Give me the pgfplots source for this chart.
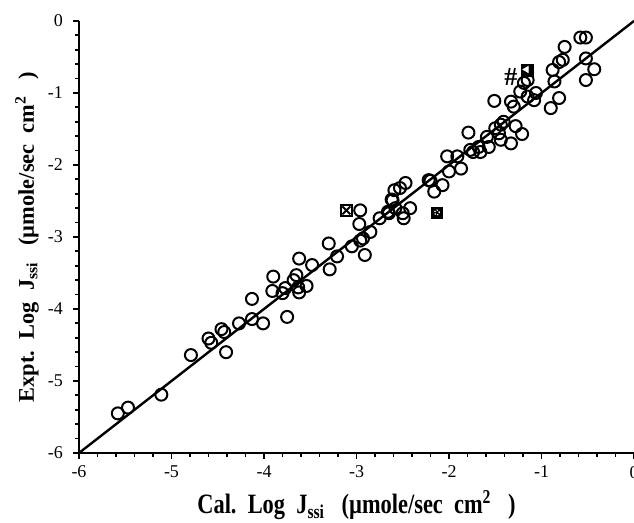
\documentclass[border=0pt]{standalone}
\usepackage{pgfplots}
\pgfplotsset{compat=1.18}
\usepackage{fontspec}
\setmainfont{Liberation Serif}

\pgfplotstableread{
x y
-5.58 -5.45
-5.47 -5.37
-5.11 -5.19
-4.79 -4.64
-4.60 -4.41
-4.57 -4.47
-4.41 -4.60
-4.46 -4.28
-4.43 -4.32
-4.27 -4.20
-4.13 -4.14
-4.13 -3.86
-4.01 -4.20
-3.90 -3.55
-3.91 -3.75
-3.80 -3.78
-3.75 -4.11
-3.77 -3.71
-3.68 -3.60
-3.65 -3.53
-3.62 -3.77
-3.63 -3.70
-3.54 -3.68
-3.62 -3.30
-3.48 -3.39
-3.29 -3.45
-3.21 -3.27
-3.30 -3.09
-3.05 -3.13
-2.96 -2.63
-2.97 -2.82
-2.85 -2.93
-2.93 -3.02
-2.91 -3.25
-2.96 -3.05
-2.75 -2.74
-2.66 -2.65
-2.62 -2.48
-2.59 -2.35
-2.53 -2.32
-2.47 -2.25
-2.61 -2.49
-2.58 -2.60
-2.42 -2.60
-2.50 -2.67
-2.49 -2.74
-2.65 -2.67
-2.22 -2.21
-2.20 -2.22
-2.07 -2.28
-2.16 -2.37
-2.00 -2.09
-2.02 -1.88
-1.87 -2.05
-1.91 -1.88
-1.79 -1.55
-1.77 -1.79
-1.74 -1.82
-1.68 -1.75
-1.66 -1.82
-1.59 -1.61
-1.57 -1.75
-1.46 -1.56
-1.44 -1.44
-1.44 -1.65
-1.50 -1.49
-1.41 -1.40
-1.33 -1.70
-1.28 -1.46
-1.21 -1.57
-1.51 -1.11
-1.33 -1.12
-1.30 -1.19
-1.23 -0.98
-1.15 -1.05
-1.19 -0.86
-1.15 -0.82
-1.06 -1.00
-1.08 -1.10
-0.88 -0.68
-0.86 -0.84
-0.81 -0.57
-0.77 -0.54
-0.75 -0.36
-0.81 -1.07
-0.90 -1.21
-0.58 -0.23
-0.52 -0.23
-0.52 -0.52
-0.43 -0.67
-0.52 -0.82
}\circles

\begin{document}
\begin{tikzpicture}
\begin{axis}[
  name=ax,
  scale only axis,
  width=277.5pt, height=216pt,
  xmin=-6, xmax=0, ymin=-6, ymax=0,
  axis lines=left,
  axis line style={-, line width=1pt},
  xtick={-6,-5,-4,-3,-2,-1,0},
  ytick={-6,-5,-4,-3,-2,-1,0},
  xticklabels={-6,-5,-4,-3,-2,-1,0},
  yticklabels={-6,-5,-4,-3,-2,-1,0},
  minor tick num=4,
  tick align=outside,
  major tick length=3pt,
  minor tick length=2pt,
  tick style={line width=0.9pt, black},
  ticklabel style={font=\fontsize{9}{10}\selectfont},
  yticklabel style={xshift=-1.5pt},
  clip=false,
  every axis x label/.style={at={(axis description cs:0.5,0)}, yshift=-30.5pt,
    anchor=base, font=\fontsize{14}{16}\selectfont\bfseries, xscale=0.8},
  every axis y label/.style={at={(axis description cs:0,0.5)}, xshift=-26pt,
    anchor=center, font=\fontsize{14}{16}\selectfont\bfseries, xscale=0.8, yscale=0.8, rotate=90},
  xlabel={Cal.\ \ Log\ \ J\textsubscript{ssi}\ \ \ (µmole/sec\ \ cm\textsuperscript{2}\ \ \ )},
  ylabel={Expt.\ \ Log\ \ J\textsubscript{ssi}\ \ \ (µmole/sec\ \ cm\textsuperscript{2}\ \ \ )},
]
\addplot[black, line width=1.2pt] coordinates {(-6,-6) (0,0)};
\addplot[only marks, mark=o, mark size=3pt, mark options={line width=1pt, black}]
  table[x=x, y=y] {\circles};
% crossed square
\addplot[only marks, mark=square, mark size=2.8pt, mark options={line width=1pt, black}]
  coordinates {(-3.11,-2.63)};
\addplot[only marks, mark=x, mark size=2.8pt, mark options={line width=1pt, black}]
  coordinates {(-3.11,-2.63)};
% dotted square
\addplot[only marks, mark=square*, mark size=2.8pt, mark options={black}]
  coordinates {(-2.13,-2.66)};
\addplot[only marks, mark=o, mark size=1.2pt, mark options={white, line width=0.6pt, dash pattern=on 0.6pt off 0.8pt}]
  coordinates {(-2.13,-2.66)};
% hash
\addplot[only marks, mark=text, text mark={\fontsize{13}{13}\selectfont\textbf{\#}}]
  coordinates {(-1.33,-0.78)};
% filled square with triangle
\addplot[only marks, mark=square*, mark size=3pt, mark options={black}]
  coordinates {(-1.15,-0.69)};
\addplot[only marks, mark=triangle*, mark size=1.7pt, mark options={white, rotate=90, xshift=0.6pt, yshift=0.6pt}]
  coordinates {(-1.15,-0.69)};
\end{axis}
\pgfresetboundingbox
\useasboundingbox ([shift={(-39.5pt,-35pt)}]ax.south west) rectangle ([shift={(0pt,10.5pt)}]ax.north east);
\end{tikzpicture}
\end{document}
